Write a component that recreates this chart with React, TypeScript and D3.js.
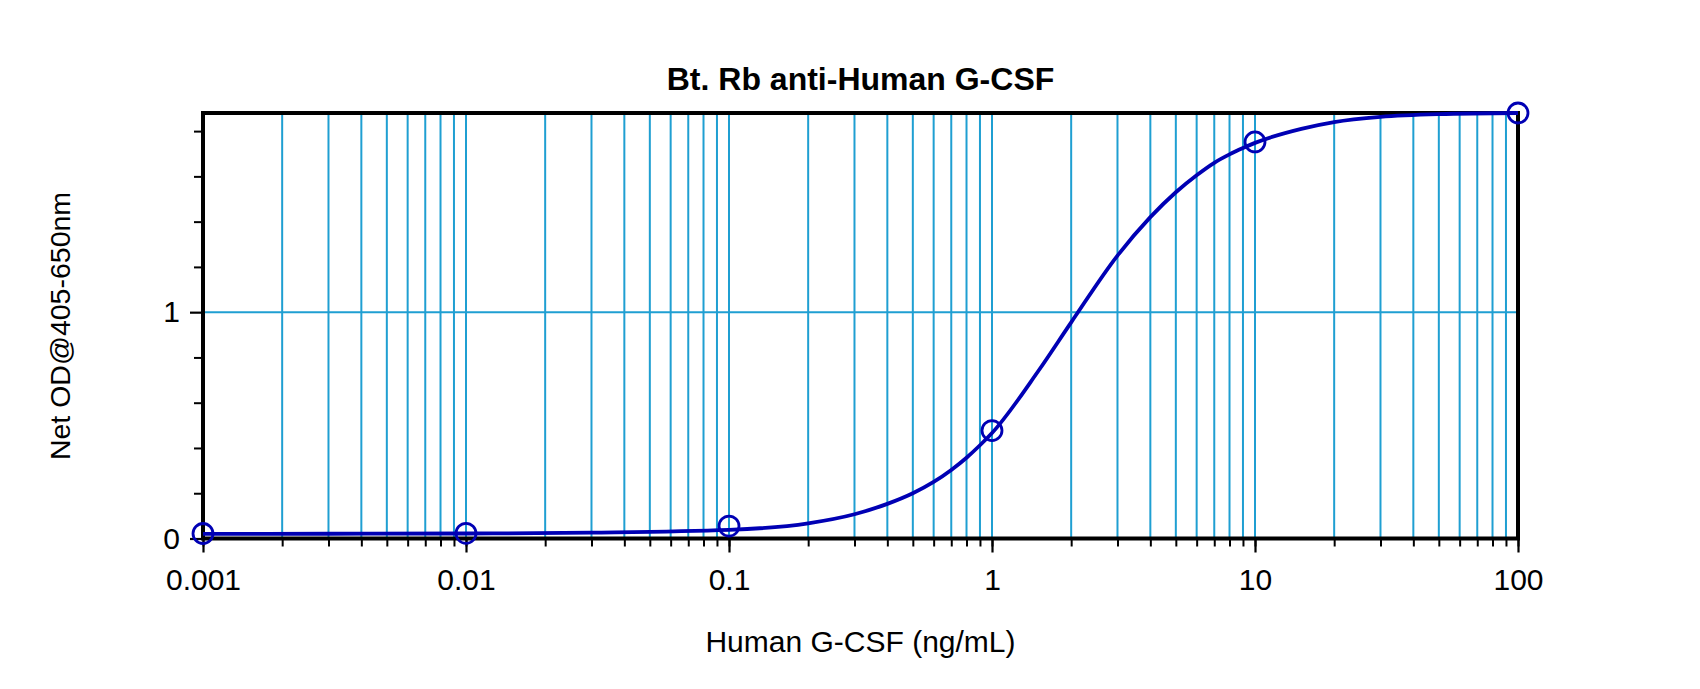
import React, { useEffect, useRef } from 'react'
import * as d3 from 'd3'

// standards (ng/mL) and their net OD
const stdConc = [0.001, 0.01, 0.1, 1, 10, 100]
const stdOD = [0.022, 0.023, 0.055, 0.477, 1.752, 1.88]

// fitted curve
const fitConc = [0.001, 0.003, 0.01, 0.03, 0.1, 0.2, 0.3, 0.4, 0.5, 0.6, 0.7, 0.8, 0.9, 1, 1.5, 2, 3, 4, 5, 6, 7, 8, 9, 10, 15, 20, 30, 50, 100]
const fitOD = [0.02, 0.021, 0.022, 0.026, 0.038, 0.067, 0.107, 0.153, 0.2, 0.25, 0.303, 0.357, 0.412, 0.466, 0.74, 0.955, 1.25, 1.42, 1.53, 1.605, 1.66, 1.697, 1.725, 1.748, 1.81, 1.84, 1.863, 1.875, 1.88]

const xMajor = [0.001, 0.01, 0.1, 1, 10, 100]
const xMajorLabels = ['0.001', '0.01', '0.1', '1', '10', '100']
const yMajor = [0, 1]
const yMinor = [0.2, 0.4, 0.6, 0.8, 1.2, 1.4, 1.6, 1.8]

const title = 'Bt. Rb anti-Human G-CSF'
const xTitle = 'Human G-CSF (ng/mL)'
const yTitle = 'Net OD@405-650nm'

export default function App() {
    const svgRef = useRef<SVGSVGElement>(null)

    useEffect(() => {
        const svg = d3.select(svgRef.current)
        svg.selectAll('*').remove()

        const left = 203, right = 1518, top = 113, bottom = 538.5
        const font = 'Arial, "Liberation Sans", sans-serif'
        const gridColor = '#1f9fd2'
        const blue = '#0000b4'

        const x = d3.scaleLog().domain([0.001, 100]).range([left, right])
        const y = d3.scaleLinear().domain([0, 1.88]).range([bottom, top])

        svg.append('rect').attr('width', 1700).attr('height', 689).attr('fill', 'white')

        // vertical grid at every log tick
        const xAll = x.ticks()
        svg.append('g').selectAll('line').data(xAll).join('line')
            .attr('x1', d => x(d)).attr('x2', d => x(d))
            .attr('y1', top).attr('y2', bottom)
            .attr('stroke', gridColor).attr('stroke-width', 2)

        // horizontal grid at 1
        svg.append('line')
            .attr('x1', left).attr('x2', right)
            .attr('y1', y(1)).attr('y2', y(1))
            .attr('stroke', gridColor).attr('stroke-width', 2)

        // x ticks
        const xMinorAxis = d3.axisBottom(x).tickValues(xAll).tickSize(8).tickFormat(() => '')
        svg.append('g').attr('transform', `translate(0,${bottom})`).call(xMinorAxis)
            .call(g => g.select('.domain').remove())
            .selectAll('line').attr('stroke', 'black').attr('stroke-width', 2)

        const xMajorAxis = d3.axisBottom(x).tickValues(xMajor).tickSize(14).tickPadding(16)
            .tickFormat((d, i) => xMajorLabels[i])
        const gx = svg.append('g').attr('transform', `translate(0,${bottom})`).call(xMajorAxis)
        gx.select('.domain').remove()
        gx.selectAll('line').attr('stroke', 'black').attr('stroke-width', 2.2)
        gx.selectAll('text').attr('font-family', font).attr('font-size', 30).attr('fill', 'black')

        // y ticks
        const yMinorAxis = d3.axisLeft(y).tickValues(yMinor).tickSize(9).tickFormat(() => '')
        svg.append('g').attr('transform', `translate(${left},0)`).call(yMinorAxis)
            .call(g => g.select('.domain').remove())
            .selectAll('line').attr('stroke', 'black').attr('stroke-width', 2)

        const yMajorAxis = d3.axisLeft(y).tickValues(yMajor).tickSize(13).tickPadding(10)
            .tickFormat(d3.format('d'))
        const gy = svg.append('g').attr('transform', `translate(${left},0)`).call(yMajorAxis)
        gy.select('.domain').remove()
        gy.selectAll('line').attr('stroke', 'black').attr('stroke-width', 2.2)
        gy.selectAll('text').attr('font-family', font).attr('font-size', 30).attr('fill', 'black')

        // frame
        svg.append('rect')
            .attr('x', left).attr('y', top)
            .attr('width', right - left).attr('height', bottom - top)
            .attr('fill', 'none').attr('stroke', 'black').attr('stroke-width', 4)

        // fit curve
        const line = d3.line<number>()
            .x((d, i) => x(fitConc[i]))
            .y(d => y(d))
            .curve(d3.curveMonotoneX)
        svg.append('path')
            .attr('d', line(fitOD))
            .attr('fill', 'none').attr('stroke', blue).attr('stroke-width', 3.8)

        // standards
        svg.append('g').selectAll('circle').data(stdOD).join('circle')
            .attr('cx', (d, i) => x(stdConc[i]))
            .attr('cy', d => y(d))
            .attr('r', 10)
            .attr('fill', 'none').attr('stroke', blue).attr('stroke-width', 2.8)

        // titles
        svg.append('text').attr('x', (left + right) / 2).attr('y', 90)
            .attr('text-anchor', 'middle').attr('font-family', font)
            .attr('font-size', 32).attr('font-weight', 'bold').text(title)

        svg.append('text').attr('x', (left + right) / 2).attr('y', 652)
            .attr('text-anchor', 'middle').attr('font-family', font)
            .attr('font-size', 30).text(xTitle)

        svg.append('text')
            .attr('transform', `translate(70,326) rotate(-90)`)
            .attr('text-anchor', 'middle').attr('font-family', font)
            .attr('font-size', 28.5).text(yTitle)
    }, [])

    return (
        <svg ref={svgRef} width={1700} height={689}
            style={{ position: 'absolute', left: 0, top: 0, display: 'block' }} />
    )
}
